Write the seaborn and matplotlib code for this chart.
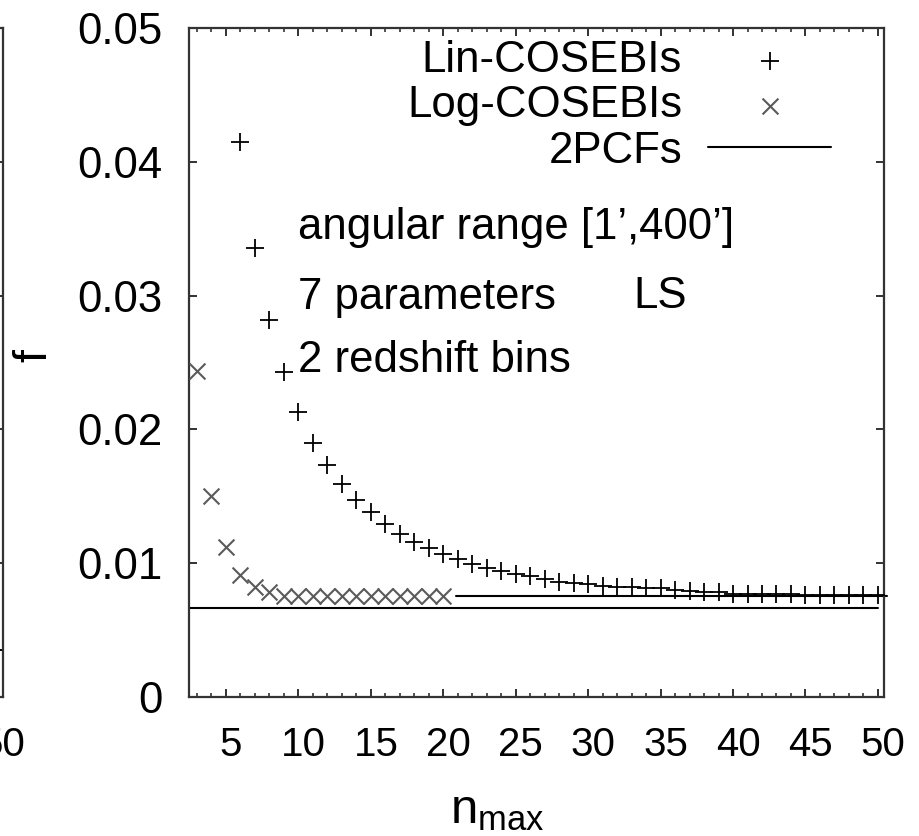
import numpy as np
import matplotlib
matplotlib.use("Agg")
import matplotlib.pyplot as plt
import matplotlib.transforms as mtransforms
import seaborn as sns

# ---- data ----
n_lin = list(range(6, 51))
f_lin = [0.0415, 0.0336, 0.0282, 0.0243, 0.0213, 0.0190, 0.0173, 0.0159, 0.0147,
         0.0138, 0.0129, 0.0122, 0.0116, 0.0111, 0.0107, 0.0103, 0.0099, 0.0096,
         0.0094, 0.0092, 0.0090, 0.0088, 0.0086, 0.0085, 0.0084, 0.0083, 0.0082,
         0.0082, 0.0081, 0.0081, 0.0080, 0.0079, 0.0078, 0.0078, 0.0077, 0.0077,
         0.0077, 0.0077, 0.0077, 0.0076, 0.0076, 0.0076, 0.0076, 0.0076, 0.0076]

n_log = list(range(3, 21))
f_log = [0.0244, 0.0150, 0.0112, 0.0091, 0.0082, 0.0078, 0.00757, 0.00757, 0.00757,
         0.00757, 0.00757, 0.00757, 0.00757, 0.00757, 0.00757, 0.00757, 0.00757, 0.00757]

# log-COSEBIs value at n_max=20, continued to the right
n_log_cont = [20.9, 50.6]
f_log_cont = [0.00757, 0.00757]

# 2PCFs reference value
n_2pcf = [2.45, 50.0]
f_2pcf = [0.00664, 0.00664]

# stub of the neighbouring panel's 2PCF line
f_left_2pcf = 0.0035

xticks = [5, 10, 15, 20, 25, 30, 35, 40, 45, 50]
yticks = [0, 0.01, 0.02, 0.03, 0.04, 0.05]
ytick_labels = ["0", "0.01", "0.02", "0.03", "0.04", "0.05"]
info_lines = ["angular range [1\u2019,400\u2019]", "7 parameters", "2 redshift bins"]

sns.set_theme(style="ticks")
plt.rcParams["font.family"] = ["Liberation Sans", "DejaVu Sans"]
plt.rcParams["mathtext.fontset"] = "custom"
plt.rcParams["mathtext.rm"] = "Liberation Sans"
plt.rcParams["mathtext.it"] = "Liberation Sans"
for k in ["text.color", "axes.labelcolor", "xtick.labelcolor", "ytick.labelcolor"]:
    plt.rcParams[k] = "black"
FS = 31.5
XFS = 29

W, H = 920, 836
fig = plt.figure(figsize=(W / 100, H / 100), dpi=100)
L, R, T, B = 189, 883.7, 28.3, 696.7
ax = fig.add_axes([L / W, 1 - B / H, (R - L) / W, (B - T) / H])
axl = fig.add_axes([(3.3 - (R - L)) / W, 1 - B / H, (R - L) / W, (B - T) / H])


def style_axes(a, xlabels):
    a.set_xlim(2.45, 50.4)
    a.set_ylim(0, 0.05)
    a.set_xticks(xticks)
    a.set_xticks(range(3, 51), minor=True)
    a.set_yticks(yticks)
    a.tick_params(which="both", direction="in", top=True, right=True, color="#222222")
    a.tick_params(which="major", length=6, width=1.3)
    a.tick_params(which="minor", length=3, width=1.1)
    a.tick_params(axis="x", pad=21)
    a.tick_params(axis="y", pad=19)
    for s in a.spines.values():
        s.set_color("#333333")
        s.set_linewidth(1.6)
    a.set_xticklabels(xlabels, fontsize=XFS)
    off = mtransforms.ScaledTranslation(5 / 100, 0, fig.dpi_scale_trans)
    for lab in a.get_xticklabels():
        lab.set_transform(lab.get_transform() + off)


style_axes(ax, [str(t) for t in xticks])
# neighbouring panel: only its last label peeks into view
style_axes(axl, [""] * (len(xticks) - 1) + ["50"])
ax.set_yticklabels(ytick_labels, fontsize=FS)
axl.set_yticklabels([])
axl.axhline(f_left_2pcf, color="black", lw=1.4)

sns.scatterplot(x=n_lin, y=f_lin, marker="+", s=150, color="black", linewidth=1.3,
                ax=ax, label="Lin-COSEBIs", zorder=3)
sns.scatterplot(x=n_log, y=f_log, marker="x", s=130, color="#5a5a5a", linewidth=1.5,
                ax=ax, label="Log-COSEBIs", zorder=3)
sns.lineplot(x=n_2pcf, y=f_2pcf, color="black", lw=1.5, ax=ax, label="2PCFs")
sns.lineplot(x=n_log_cont, y=f_log_cont, color="black", lw=1.5, ax=ax)
ax.lines[-1].set_clip_on(False)

leg = ax.legend(loc="upper right", bbox_to_anchor=(831 / W, 1 - 40 / H),
                bbox_transform=fig.transFigure, frameon=False, markerfirst=False,
                fontsize=FS, handlelength=2.8, handletextpad=0.6, labelspacing=0.1,
                borderpad=0, borderaxespad=0)

ax.text(298 / W, 1 - 228 / H, info_lines[0], transform=fig.transFigure,
        fontsize=FS, va="center", ha="left")
ax.text(298 / W, 1 - 297 / H, info_lines[1], transform=fig.transFigure,
        fontsize=FS, va="center", ha="left")
ax.text(633 / W, 1 - 297 / H, "LS", transform=fig.transFigure,
        fontsize=FS, va="center", ha="left")
ax.text(298 / W, 1 - 360 / H, info_lines[2], transform=fig.transFigure,
        fontsize=FS, va="center", ha="left")

ax.set_ylabel("f", fontsize=FS + 2)
ax.yaxis.set_label_coords((56 - L) / (R - L), 0.51)
ax.set_xlabel(r"$\mathrm{n}_{\mathrm{max}}$", fontsize=FS + 4)
ax.xaxis.set_label_coords((497 - L) / (R - L), -0.137)

fig.savefig("out.png", dpi=100)
